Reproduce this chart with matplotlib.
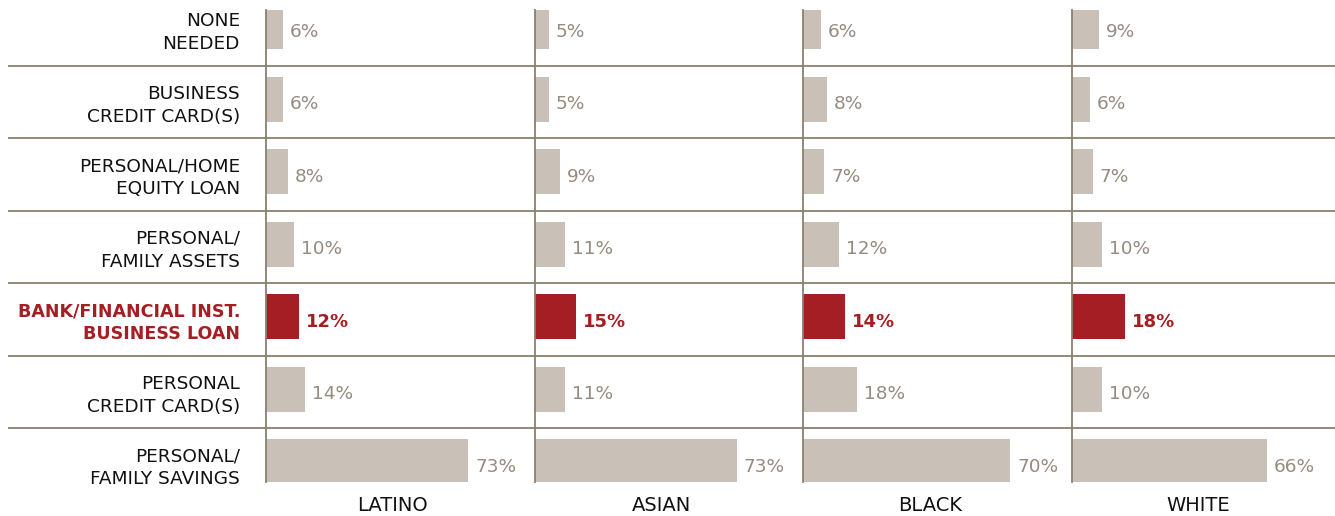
import matplotlib
matplotlib.use("Agg")
import matplotlib.pyplot as plt

categories = ["NONE\nNEEDED", "BUSINESS\nCREDIT CARD(S)", "PERSONAL/HOME\nEQUITY LOAN",
              "PERSONAL/\nFAMILY ASSETS", "BANK/FINANCIAL INST.\nBUSINESS LOAN",
              "PERSONAL\nCREDIT CARD(S)", "PERSONAL/\nFAMILY SAVINGS"]
groups = ["LATINO", "ASIAN", "BLACK", "WHITE"]
latino = [6, 6, 8, 10, 12, 14, 73]
asian = [5, 5, 9, 11, 15, 11, 73]
black = [6, 8, 7, 12, 14, 18, 70]
white = [9, 6, 7, 10, 18, 10, 66]
series = [latino, asian, black, white]
highlight = 4

FONT = ["DejaVu Sans"]
GRAY_BAR = "#c9c0b7"
RED = "#a51e23"
GRAY_TXT = "#968b7e"
LINE = "#8b8070"

W, H = 1335, 516
fig = plt.figure(figsize=(W / 100, H / 100), dpi=100)

top_px, bot_px = 10, 482
ylim = (6.238, -0.272)

def fy(px):
    return 1 - px / H

# background axes for separators and row labels
bg = fig.add_axes([8 / W, fy(bot_px), (W - 8) / W, (bot_px - top_px) / H])
bg.set_xlim(0, W - 8)
bg.set_ylim(*ylim)
bg.axis("off")
for i in range(len(categories) - 1):
    bg.axhline(i + 0.5, color=LINE, lw=1.3)
for i, c in enumerate(categories):
    hl = i == highlight
    bg.text(240 - 8, i + 0.04, c, ha="right", va="center", fontsize=12.6 if hl else 13.3,
            family=FONT, fontweight="bold" if hl else "normal",
            color=RED if hl else "#111111", linespacing=1.35)

xmax = [97, 97, 91, 91]
pw = 268.7
for j, (g, vals) in enumerate(zip(groups, series)):
    left = 266 + pw * j
    ax = fig.add_axes([left / W, fy(bot_px), pw / W, (bot_px - top_px) / H])
    ax.patch.set_alpha(0)
    ax.set_xlim(0, xmax[j])
    ax.set_ylim(*ylim)
    ys = [i - 0.04 for i in range(len(vals))]
    colors = [RED if i == highlight else GRAY_BAR for i in range(len(vals))]
    ax.barh(ys, vals, height=0.62, color=colors, zorder=2)
    for i, v in enumerate(vals):
        hl = i == highlight
        ax.annotate(f"{v}%", xy=(v, i + 0.03), xytext=(7, 0), textcoords="offset pixels",
                    ha="left", va="center", family=FONT,
                    fontsize=13 if hl else 13.3,
                    fontweight="bold" if hl else "normal",
                    color=RED if hl else GRAY_TXT)
    for s in ["top", "right", "bottom"]:
        ax.spines[s].set_visible(False)
    ax.spines["left"].set_color(LINE)
    ax.spines["left"].set_linewidth(1.3)
    ax.set_xticks([])
    ax.set_yticks([])
    ax.text(0.47, -0.03, g, transform=ax.transAxes, ha="center", va="top",
            family=FONT, fontsize=14, color="#111111")

fig.savefig("out.png", dpi=100)
